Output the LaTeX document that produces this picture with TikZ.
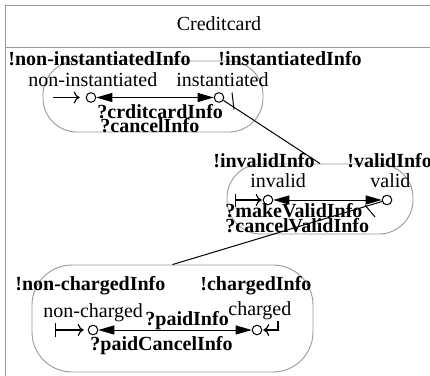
\documentclass[tikz,border=0pt]{standalone}
\usepackage{fontspec}
\setmainfont{Liberation Serif}
\usetikzlibrary{arrows.meta,%
                backgrounds,%
                fit%
              }
\definecolor{framegray}{gray}{0.6}

\def\statepoints{91/97.5/ni, 219/97.5/in,%
  268/200/iv, 387/200/va,%
  93/330/nc, 257/330/ch}
\def\statenames{28/86/non-instantiated/sni, 176/86/instantiated/sin,%
  250/187/invalid/siv, 370/187/valid/sva,%
  43/317/non-charged/snc, 228/315/charged/sch}
\def\infolabels{8/65/!non-instantiatedInfo/oni, 218/65/!instantiatedInfo/oin,%
  97/118/?crditcardInfo/tcr, 100/132/?cancelInfo/tca,%
  213/167/!invalidInfo/oiv, 347/167/!validInfo/ova,%
  225/217/?makeValidInfo/tmv, 225/232/?cancelValidInfo/tcv,%
  15/290/!non-chargedInfo/onc, 200/290/!chargedInfo/och,%
  145/325/?paidInfo/tpa, 90/350/?paidCancelInfo/tpc}

\begin{document}
\begin{tikzpicture}[x=0.5pt,y=-0.5pt,
    every node/.style={inner sep=0pt},
    st/.style={circle,draw,minimum size=4.8pt,line width=0.5pt},
    info/.style={font=\bfseries,anchor=base west},
    sname/.style={anchor=base west},
    region/.style={rectangle,draw=framegray,line width=0.45pt,inner sep=0pt},
    trans/.style={line width=0.5pt,%
      {Triangle[length=8pt,width=4.5pt]}-{Triangle[length=8pt,width=4.5pt]}},
    link/.style={line width=0.5pt},
    init/.style={line width=0.6pt,-{To[length=3pt,width=6pt]}}]

  \useasboundingbox (0,0) rectangle (430,376);

  % frame and title
  \draw[framegray,line width=0.5pt] (430,5) -- (6,5) -- (6,376);
  \draw[framegray,line width=0.5pt] (6,47) -- (430,47);
  \node[anchor=base] (title) at (219,30) {Creditcard};

  % states
  \foreach \x/\y/\nm in \statepoints {%
    \node[st] (\nm) at (\x,\y) {};
  }
  \foreach \x/\y/\txt/\nm in \statenames {%
    \node[sname] (\nm) at (\x,\y) {\txt};
  }
  \foreach \x/\y/\txt/\nm in \infolabels {%
    \node[info] (\nm) at (\x,\y) {\txt};
  }

  \begin{pgfonlayer}{background}
    \node[region, rounded corners=17pt, fit={(43,61) (263,132)}] (rinst) {};
    \node[region, rounded corners=17pt, fit={(227,164) (413,234)}] (rvalid) {};
    \node[region, rounded corners=20pt, fit={(32,265) (313,372)}] (rchg) {};
  \end{pgfonlayer}

  % transitions
  \draw[trans] (ni) -- (in);
  \draw[trans] (iv) -- (va);
  \draw[trans] (nc) -- (ch);

  % initial and final marks
  \coordinate (i1) at (53,97.5);
  \coordinate (i2) at (235,200);
  \coordinate (i3) at (55,330);
  \coordinate (f3) at (278,321);
  \draw[init, shorten >=3pt] (i1) -- (ni);
  \draw[init, {Bar[width=6.5pt]}-{To[length=3pt,width=6pt]}, shorten >=0.5pt] (i2) -- (iv);
  \draw[init, {Bar[width=7pt]}-{To[length=3pt,width=6pt]}, shorten >=2pt] (i3) -- (nc);
  \draw[init, shorten >=0.5pt] (f3) |- (ch);

  % links between regions
  \draw[link] (in) -- (rvalid.north);
  \draw[link] (va) -- (rchg.north);
  \draw[link] ([shift={(13,-5)}]in.center) -- ++(2,17);
  \draw[link] ([shift={(-22,5)}]va.center) -- ++(10,12);

\end{tikzpicture}
\end{document}
